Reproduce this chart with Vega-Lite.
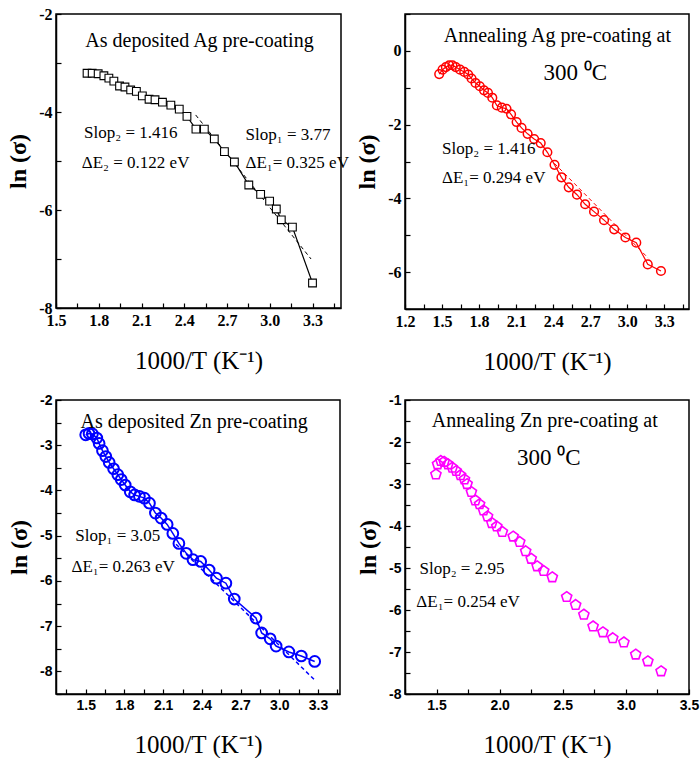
{
  "$schema": "https://vega.github.io/schema/vega-lite/v6.json",
  "background": "white",
  "padding": {"left": 5, "top": 5, "right": 0, "bottom": 0},
  "columns": 2,
  "spacing": {"row": 91, "column": 64},
  "bounds": "flush",
  "datasets": {
    "ag_dep": [
      {"x": 1.718, "y": -3.21}, {"x": 1.754, "y": -3.21}, {"x": 1.796, "y": -3.22}, {"x": 1.836, "y": -3.26},
      {"x": 1.871, "y": -3.31}, {"x": 1.906, "y": -3.37}, {"x": 1.946, "y": -3.47}, {"x": 1.984, "y": -3.49},
      {"x": 2.024, "y": -3.55}, {"x": 2.064, "y": -3.58}, {"x": 2.106, "y": -3.67}, {"x": 2.153, "y": -3.74},
      {"x": 2.195, "y": -3.75}, {"x": 2.247, "y": -3.80}, {"x": 2.306, "y": -3.86}, {"x": 2.365, "y": -3.94},
      {"x": 2.419, "y": -4.09}, {"x": 2.482, "y": -4.35}, {"x": 2.541, "y": -4.35}, {"x": 2.611, "y": -4.55},
      {"x": 2.682, "y": -4.81}, {"x": 2.752, "y": -5.02}, {"x": 2.853, "y": -5.49}, {"x": 2.936, "y": -5.68},
      {"x": 2.999, "y": -5.82}, {"x": 3.046, "y": -5.98}, {"x": 3.081, "y": -6.20}, {"x": 3.159, "y": -6.35},
      {"x": 3.30, "y": -7.49}
    ],
    "ag_dep_fit": [{"x": 2.48, "y": -4.06}, {"x": 3.29, "y": -7.0}],
    "ag_dep_head": [{"label": "As deposited Ag pre-coating", "x": 2.507, "y": -2.67}],
    "ag_dep_notes": [
      {"label": "Slop₂ = 1.416", "x": 1.697, "y": -4.53},
      {"label": "ΔE₂ = 0.122  eV", "x": 1.681, "y": -5.14},
      {"label": "Slop₁ = 3.77", "x": 2.83, "y": -4.57},
      {"label": "ΔE₁= 0.325  eV", "x": 2.83, "y": -5.14}
    ],
    "ag_ann": [
      {"x": 1.477, "y": -0.63}, {"x": 1.504, "y": -0.51}, {"x": 1.531, "y": -0.44}, {"x": 1.558, "y": -0.39},
      {"x": 1.584, "y": -0.39}, {"x": 1.611, "y": -0.44}, {"x": 1.646, "y": -0.51}, {"x": 1.680, "y": -0.57},
      {"x": 1.712, "y": -0.64}, {"x": 1.739, "y": -0.75}, {"x": 1.771, "y": -0.87}, {"x": 1.806, "y": -0.96},
      {"x": 1.840, "y": -1.07}, {"x": 1.872, "y": -1.14}, {"x": 1.907, "y": -1.27}, {"x": 1.944, "y": -1.48},
      {"x": 1.984, "y": -1.54}, {"x": 2.022, "y": -1.57}, {"x": 2.059, "y": -1.72}, {"x": 2.104, "y": -1.93},
      {"x": 2.144, "y": -2.09}, {"x": 2.193, "y": -2.25}, {"x": 2.246, "y": -2.39}, {"x": 2.299, "y": -2.50},
      {"x": 2.353, "y": -2.75}, {"x": 2.411, "y": -3.09}, {"x": 2.467, "y": -3.43}, {"x": 2.526, "y": -3.70},
      {"x": 2.593, "y": -3.90}, {"x": 2.659, "y": -4.16}, {"x": 2.731, "y": -4.36}, {"x": 2.812, "y": -4.59},
      {"x": 2.894, "y": -4.84}, {"x": 2.985, "y": -5.06}, {"x": 3.073, "y": -5.20}, {"x": 3.166, "y": -5.79},
      {"x": 3.273, "y": -5.97}
    ],
    "ag_ann_fit": [{"x": 2.41, "y": -3.05}, {"x": 3.17, "y": -5.62}],
    "ag_ann_head": [{"label": "Annealing Ag pre-coating at", "x": 2.434, "y": 0.25}],
    "ag_ann_temp": [{"label": "300 ⁰C", "x": 2.58, "y": -0.79}],
    "ag_ann_notes": [
      {"label": "Slop₂ = 1.416", "x": 1.5, "y": -2.81},
      {"label": "ΔE₁= 0.294  eV", "x": 1.5, "y": -3.57}
    ],
    "zn_dep": [
      {"x": 1.500, "y": -2.77}, {"x": 1.526, "y": -2.74}, {"x": 1.552, "y": -2.75}, {"x": 1.586, "y": -2.84},
      {"x": 1.604, "y": -2.96}, {"x": 1.630, "y": -3.12}, {"x": 1.656, "y": -3.25}, {"x": 1.682, "y": -3.38},
      {"x": 1.716, "y": -3.52}, {"x": 1.749, "y": -3.65}, {"x": 1.775, "y": -3.76}, {"x": 1.806, "y": -3.88},
      {"x": 1.845, "y": -4.03}, {"x": 1.879, "y": -4.10}, {"x": 1.916, "y": -4.13}, {"x": 1.955, "y": -4.17},
      {"x": 1.994, "y": -4.28}, {"x": 2.040, "y": -4.50}, {"x": 2.084, "y": -4.61}, {"x": 2.131, "y": -4.75},
      {"x": 2.175, "y": -4.95}, {"x": 2.222, "y": -5.17}, {"x": 2.279, "y": -5.39}, {"x": 2.331, "y": -5.53},
      {"x": 2.391, "y": -5.57}, {"x": 2.456, "y": -5.76}, {"x": 2.513, "y": -5.94}, {"x": 2.586, "y": -6.05},
      {"x": 2.651, "y": -6.40}, {"x": 2.819, "y": -6.82}, {"x": 2.863, "y": -7.15}, {"x": 2.929, "y": -7.28},
      {"x": 2.975, "y": -7.44}, {"x": 3.074, "y": -7.57}, {"x": 3.170, "y": -7.66}, {"x": 3.274, "y": -7.78}
    ],
    "zn_dep_fit": [{"x": 2.2, "y": -5.19}, {"x": 3.27, "y": -8.18}],
    "zn_dep_head": [{"label": "As deposited Zn pre-coating", "x": 2.34, "y": -2.61}],
    "zn_dep_notes": [
      {"label": "Slop₁ = 3.05", "x": 1.42, "y": -5.11},
      {"label": "ΔE₁= 0.263  eV", "x": 1.39, "y": -5.81}
    ],
    "zn_ann": [
      {"x": 1.495, "y": -2.77}, {"x": 1.508, "y": -2.53}, {"x": 1.534, "y": -2.45}, {"x": 1.560, "y": -2.47},
      {"x": 1.591, "y": -2.53}, {"x": 1.625, "y": -2.61}, {"x": 1.656, "y": -2.69}, {"x": 1.690, "y": -2.79},
      {"x": 1.721, "y": -2.89}, {"x": 1.742, "y": -3.00}, {"x": 1.776, "y": -3.19}, {"x": 1.807, "y": -3.39},
      {"x": 1.841, "y": -3.48}, {"x": 1.872, "y": -3.63}, {"x": 1.904, "y": -3.77}, {"x": 1.938, "y": -3.93},
      {"x": 1.977, "y": -4.01}, {"x": 2.021, "y": -4.14}, {"x": 2.107, "y": -4.25}, {"x": 2.159, "y": -4.38},
      {"x": 2.206, "y": -4.60}, {"x": 2.250, "y": -4.78}, {"x": 2.297, "y": -4.96}, {"x": 2.349, "y": -5.07},
      {"x": 2.417, "y": -5.22}, {"x": 2.531, "y": -5.69}, {"x": 2.602, "y": -5.88}, {"x": 2.667, "y": -6.11},
      {"x": 2.740, "y": -6.39}, {"x": 2.818, "y": -6.53}, {"x": 2.896, "y": -6.67}, {"x": 2.984, "y": -6.77},
      {"x": 3.078, "y": -7.06}, {"x": 3.174, "y": -7.22}, {"x": 3.279, "y": -7.46}
    ],
    "zn_ann_head": [{"label": "Annealing Zn pre-coating at", "x": 2.357, "y": -1.64}],
    "zn_ann_temp": [{"label": "300 ⁰C", "x": 2.39, "y": -2.54}],
    "zn_ann_notes": [
      {"label": "Slop₂ = 2.95", "x": 1.365, "y": -5.14},
      {"label": "ΔE₁= 0.254  eV", "x": 1.34, "y": -5.93}
    ]
  },
  "concat": [
    {
      "width": 285, "height": 294,
      "encoding": {
        "x": {"field": "x", "type": "quantitative",
          "scale": {"domain": [1.5, 3.5], "nice": false, "zero": false},
          "axis": {"title": "1000/T (K⁻¹)",
            "values": [1.5, 1.65, 1.8, 1.95, 2.1, 2.25, 2.4, 2.55, 2.7, 2.85, 3.0, 3.15, 3.3, 3.45],
            "labelExpr": "round(datum.value*100) % 30 == 0 ? format(datum.value, '.1f') : ''"}},
        "y": {"field": "y", "type": "quantitative",
          "scale": {"domain": [-8, -2], "nice": false, "zero": false},
          "axis": {"title": "ln (σ)", "values": [-8, -7, -6, -5, -4, -3, -2],
            "labelExpr": "round(datum.value) % 2 == 0 ? datum.value + '' : ''"}}
      },
      "layer": [
        {"data": {"name": "ag_dep_fit"}, "mark": {"type": "line", "color": "black", "strokeWidth": 1, "strokeDash": [4, 3]}},
        {"data": {"name": "ag_dep"}, "mark": {"type": "line", "color": "black", "strokeWidth": 1.2}},
        {"data": {"name": "ag_dep"}, "mark": {"type": "point", "shape": "square", "filled": false, "color": "black", "fill": "white", "fillOpacity": 1, "strokeWidth": 1.1, "size": 60, "opacity": 1}},
        {"data": {"name": "ag_dep_head"}, "mark": {"type": "text", "fontSize": 20, "align": "center", "baseline": "alphabetic", "font": "Liberation Serif", "color": "black"}, "encoding": {"text": {"field": "label"}}},
        {"data": {"name": "ag_dep_notes"}, "mark": {"type": "text", "fontSize": 17, "align": "left", "baseline": "alphabetic", "font": "Liberation Serif", "color": "black"}, "encoding": {"text": {"field": "label"}}}
      ]
    },
    {
      "width": 284, "height": 295,
      "encoding": {
        "x": {"field": "x", "type": "quantitative",
          "scale": {"domain": [1.2, 3.5], "nice": false, "zero": false},
          "axis": {"title": "1000/T (K⁻¹)",
            "values": [1.2, 1.35, 1.5, 1.65, 1.8, 1.95, 2.1, 2.25, 2.4, 2.55, 2.7, 2.85, 3.0, 3.15, 3.3, 3.45],
            "labelExpr": "round(datum.value*100) % 30 == 0 ? format(datum.value, '.1f') : ''"}},
        "y": {"field": "y", "type": "quantitative",
          "scale": {"domain": [-7, 1], "nice": false, "zero": false},
          "axis": {"title": "ln (σ)", "values": [-7, -6, -5, -4, -3, -2, -1, 0, 1],
            "labelExpr": "round(datum.value) % 2 == 0 ? datum.value + '' : ''"}}
      },
      "layer": [
        {"data": {"name": "ag_ann_fit"}, "mark": {"type": "line", "color": "#ff0000", "strokeWidth": 1, "strokeDash": [4, 3]}},
        {"data": {"name": "ag_ann"}, "mark": {"type": "line", "color": "#ff0000", "strokeWidth": 1.2}},
        {"data": {"name": "ag_ann"}, "mark": {"type": "point", "shape": "circle", "filled": false, "color": "#ff0000", "strokeWidth": 1.5, "size": 75, "opacity": 1}},
        {"data": {"name": "ag_ann_head"}, "mark": {"type": "text", "fontSize": 20, "align": "center", "baseline": "alphabetic", "font": "Liberation Serif", "color": "black"}, "encoding": {"text": {"field": "label"}}},
        {"data": {"name": "ag_ann_temp"}, "mark": {"type": "text", "fontSize": 23, "align": "center", "baseline": "alphabetic", "font": "Liberation Serif", "color": "black"}, "encoding": {"text": {"field": "label"}}},
        {"data": {"name": "ag_ann_notes"}, "mark": {"type": "text", "fontSize": 17, "align": "left", "baseline": "alphabetic", "font": "Liberation Serif", "color": "black"}, "encoding": {"text": {"field": "label"}}}
      ]
    },
    {
      "width": 284, "height": 294,
      "encoding": {
        "x": {"field": "x", "type": "quantitative",
          "scale": {"domain": [1.27, 3.47], "nice": false, "zero": false},
          "axis": {"title": "1000/T (K⁻¹)", "labelFont": "Liberation Sans", "labelFontSize": 14,
            "values": [1.35, 1.5, 1.65, 1.8, 1.95, 2.1, 2.25, 2.4, 2.55, 2.7, 2.85, 3.0, 3.15, 3.3, 3.45],
            "labelExpr": "round(datum.value*100) % 30 == 0 ? format(datum.value, '.1f') : ''"}},
        "y": {"field": "y", "type": "quantitative",
          "scale": {"domain": [-8.5, -2], "nice": false, "zero": false},
          "axis": {"title": "ln (σ)", "labelFont": "Liberation Sans", "labelFontSize": 14,
            "values": [-8.5, -8, -7.5, -7, -6.5, -6, -5.5, -5, -4.5, -4, -3.5, -3, -2.5, -2],
            "labelExpr": "datum.value % 1 == 0 ? datum.value + '' : ''"}}
      },
      "layer": [
        {"data": {"name": "zn_dep_fit"}, "mark": {"type": "line", "color": "#0000ff", "strokeWidth": 1.5, "strokeDash": [4, 3]}},
        {"data": {"name": "zn_dep"}, "mark": {"type": "line", "color": "#0000ff", "strokeWidth": 1.5}},
        {"data": {"name": "zn_dep"}, "mark": {"type": "point", "shape": "circle", "filled": false, "color": "#0000ff", "strokeWidth": 2, "size": 115, "opacity": 1}},
        {"data": {"name": "zn_dep_head"}, "mark": {"type": "text", "fontSize": 20, "align": "center", "baseline": "alphabetic", "font": "Liberation Serif", "color": "black"}, "encoding": {"text": {"field": "label"}}},
        {"data": {"name": "zn_dep_notes"}, "mark": {"type": "text", "fontSize": 17, "align": "left", "baseline": "alphabetic", "font": "Liberation Serif", "color": "black"}, "encoding": {"text": {"field": "label"}}}
      ]
    },
    {
      "width": 284, "height": 294,
      "encoding": {
        "x": {"field": "x", "type": "quantitative",
          "scale": {"domain": [1.25, 3.5], "nice": false, "zero": false},
          "axis": {"title": "1000/T (K⁻¹)", "labelFont": "Liberation Sans", "labelFontSize": 14,
            "values": [1.25, 1.5, 1.75, 2.0, 2.25, 2.5, 2.75, 3.0, 3.25, 3.5],
            "labelExpr": "round(datum.value*100) % 50 == 0 ? format(datum.value, '.1f') : ''"}},
        "y": {"field": "y", "type": "quantitative",
          "scale": {"domain": [-8, -1], "nice": false, "zero": false},
          "axis": {"title": "ln (σ)", "labelFont": "Liberation Sans", "labelFontSize": 14,
            "values": [-8, -7.5, -7, -6.5, -6, -5.5, -5, -4.5, -4, -3.5, -3, -2.5, -2, -1.5, -1],
            "labelExpr": "datum.value % 1 == 0 ? datum.value + '' : ''"}}
      },
      "layer": [
        {"data": {"name": "zn_ann"}, "mark": {"type": "point", "shape": "M0,-1L0.951,-0.309L0.588,0.809L-0.588,0.809L-0.951,-0.309Z", "filled": false, "color": "#ff00ff", "strokeWidth": 1.6, "size": 115, "opacity": 1}},
        {"data": {"name": "zn_ann_head"}, "mark": {"type": "text", "fontSize": 20, "align": "center", "baseline": "alphabetic", "font": "Liberation Serif", "color": "black"}, "encoding": {"text": {"field": "label"}}},
        {"data": {"name": "zn_ann_temp"}, "mark": {"type": "text", "fontSize": 23, "align": "center", "baseline": "alphabetic", "font": "Liberation Serif", "color": "black"}, "encoding": {"text": {"field": "label"}}},
        {"data": {"name": "zn_ann_notes"}, "mark": {"type": "text", "fontSize": 17, "align": "left", "baseline": "alphabetic", "font": "Liberation Serif", "color": "black"}, "encoding": {"text": {"field": "label"}}}
      ]
    }
  ],
  "config": {
    "font": "Liberation Serif",
    "view": {"stroke": "black", "strokeWidth": 1.5},
    "axis": {
      "grid": false,
      "domainColor": "black", "domainWidth": 1.5,
      "tickColor": "black", "tickWidth": 1.2, "tickSize": -5,
      "labelFont": "Liberation Serif", "labelFontWeight": "bold", "labelFontSize": 16, "labelColor": "black",
      "labelPadding": 9, "labelOverlap": false, "labelFlush": false,
      "titleFont": "Liberation Serif", "titleColor": "black"
    },
    "axisX": {"titleFontSize": 25, "titleFontWeight": "normal", "titlePadding": 20},
    "axisY": {"titleFontSize": 24, "titleFontWeight": "bold", "titlePadding": 8, "labelPadding": 9}
  }
}
